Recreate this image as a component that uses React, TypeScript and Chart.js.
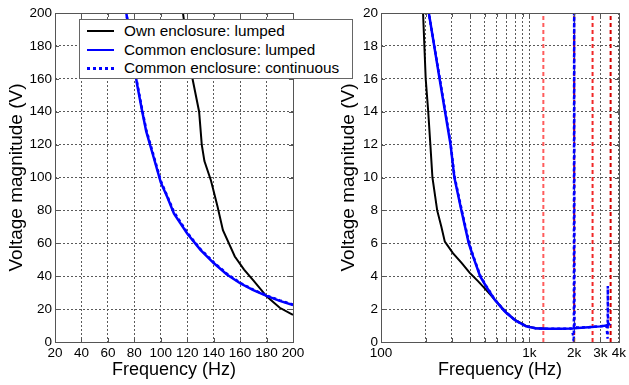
import React, { useEffect, useRef } from "react";
import { Chart, registerables } from "chart.js";

Chart.register(...registerables);

const FONT = "'Liberation Sans', Arial, sans-serif";

// ---- Left plot (linear, 20–200 Hz) ----
const leftFreqOwn = [116, 120, 124, 129, 131, 133, 138, 143, 147, 156, 163, 170, 180, 190, 200];
const leftOwn = [205, 180, 160, 140, 120, 110, 98, 82, 68, 52, 44, 37.5, 27.8, 20.8, 16.5];
const leftFreqCommon = [73, 78, 82, 86, 89, 94, 100, 105, 110, 120, 130, 140, 150, 160, 170, 180, 190, 200];
const leftCommon = [205, 178, 157, 140, 128, 114, 97, 88, 78, 66, 56, 48, 41, 35.7, 31.5, 28, 25, 22.5];
const leftCont = [205, 179, 158, 141, 129, 115, 98, 88.5, 79, 66.5, 56.5, 48.5, 41.5, 36, 31.8, 28.3, 25.3, 22.8];

// ---- Right plot (log, 100–4000 Hz) ----
const rightFreqOwn = [188, 192, 200, 208, 215, 222, 239, 255, 269, 305, 350, 396, 450, 512, 600, 697, 800, 948, 1100, 1300];
const rightOwn = [22, 20, 16, 14, 12, 10, 8, 7, 6.1, 5.4, 4.8, 4.2, 3.7, 3.15, 2.45, 1.8, 1.34, 0.98, 0.84, 0.8];
const rightFreqCommon = [205, 210, 248, 270, 294, 312, 348, 390, 417, 465, 512, 580, 660, 697, 800, 948, 1100, 1300, 1600, 1950, 2100, 2500, 3000, 3300, 3500];
const rightCommon = [22, 20, 16, 14, 12, 10, 8, 6, 5.2, 4, 3.36, 2.6, 2, 1.78, 1.32, 0.95, 0.83, 0.8, 0.8, 0.82, 0.85, 0.9, 0.95, 1.0, 1.1];
const rightFreqCont = [205, 210, 248, 270, 294, 312, 348, 390, 417, 465, 512, 580, 660, 697, 800, 948, 1100, 1300, 1600, 1900, 1960, 1990, 2000, 2010, 2100, 2500, 3000, 3300, 3360, 3370, 3385, 3500];
const rightCont = [22, 20, 16.1, 14.1, 12.1, 10.1, 8.1, 6.1, 5.25, 4.05, 3.4, 2.62, 2.02, 1.8, 1.33, 0.96, 0.83, 0.8, 0.8, 0.82, 0.5, 0.0, 22, 0.9, 0.88, 0.9, 0.96, 1.0, 0.2, 3.4, 1.0, 1.1];

const redLineFreqs = [1240, 2000, 2660, 3520];
const redLineColors = ["#ff5c5c", "#d40000", "#f02828", "#d40000"];

const rightTickValues = [100, 200, 300, 400, 500, 600, 700, 800, 900, 1000, 2000, 3000, 4000];
const rightTickLabels: Record<number, string> = { 100: "100", 1000: "1k", 2000: "2k", 3000: "3k", 4000: "4k" };

const legendLabels = ["Own enclosure: lumped", "Common enclosure: lumped", "Common enclosure: continuous"];

const pts = (xs: number[], ys: number[]) => xs.map((x, i) => ({ x, y: ys[i] }));

const boxPlugin = {
  id: "box",
  afterDraw(chart: any) {
    const { ctx, chartArea: a, scales } = chart;
    ctx.save();
    ctx.strokeStyle = "#555";
    ctx.lineWidth = 1;
    ctx.setLineDash([]);
    const xs = scales.x, ys = scales.y;
    ctx.beginPath();
    xs.ticks.forEach((t: any) => {
      const px = Math.round(xs.getPixelForValue(t.value)) + 0.5;
      ctx.moveTo(px, a.bottom); ctx.lineTo(px, a.bottom - 4);
      ctx.moveTo(px, a.top); ctx.lineTo(px, a.top + 4);
    });
    ys.ticks.forEach((t: any) => {
      const py = Math.round(ys.getPixelForValue(t.value)) + 0.5;
      ctx.moveTo(a.left, py); ctx.lineTo(a.left + 4, py);
      ctx.moveTo(a.right, py); ctx.lineTo(a.right - 4, py);
    });
    ctx.stroke();
    ctx.strokeRect(Math.round(a.left) + 0.5, Math.round(a.top) + 0.5, Math.round(a.right - a.left), Math.round(a.bottom - a.top));
    ctx.restore();
  },
};

const tickFont = { family: FONT, size: 13.5 };
const xTitleFont = { family: FONT, size: 18 };
const yTitleFont = { family: FONT, size: 19 };
const gridCfg = { color: "#5a5a5a", drawTicks: false, lineWidth: 1 };
const borderCfg = { display: false, dash: [2, 2] };

function makeYScale(max: number, step: number, width: number, titlePad: number) {
  return {
    type: "linear",
    min: 0,
    max,
    ticks: { stepSize: step, font: tickFont, color: "#000", padding: 3 },
    grid: gridCfg,
    border: borderCfg,
    title: { display: true, text: "Voltage magnitude (V)", font: yTitleFont, color: "#000", padding: { top: titlePad, bottom: 0 } },
    afterFit: (s: any) => { s.width = width; },
  };
}

function LeftChart() {
  const ref = useRef<HTMLCanvasElement>(null);
  useEffect(() => {
    const chart = new Chart(ref.current!, {
      type: "line",
      data: {
        datasets: [
          { data: pts(leftFreqCommon, leftCont), borderColor: "#0000ff", borderWidth: 2.5, borderDash: [3, 3], pointRadius: 0 },
          { data: pts(leftFreqCommon, leftCommon), borderColor: "#0000ff", borderWidth: 2.5, pointRadius: 0 },
          { data: pts(leftFreqOwn, leftOwn), borderColor: "#000", borderWidth: 2, pointRadius: 0 },
        ],
      } as any,
      options: {
        responsive: false,
        animation: false,
        plugins: { legend: { display: false }, tooltip: { enabled: false } },
        layout: { padding: { top: 13, right: 17, left: 0, bottom: 0 } },
        scales: {
          x: {
            type: "linear",
            min: 20,
            max: 200,
            ticks: { stepSize: 20, font: tickFont, color: "#000", padding: 3, maxRotation: 0, autoSkip: false },
            grid: gridCfg,
            border: borderCfg,
            title: { display: true, text: "Frequency (Hz)", font: xTitleFont, color: "#000", padding: { top: 0, bottom: 4 } },
            afterFit: (s: any) => { s.height = 43; },
          },
          y: makeYScale(200, 20, 55, 5),
        },
      } as any,
      plugins: [boxPlugin],
    });
    return () => chart.destroy();
  }, []);
  return <canvas ref={ref} width={310} height={385} style={{ position: "absolute", left: 0, top: 0 }} />;
}

function RightChart() {
  const ref = useRef<HTMLCanvasElement>(null);
  useEffect(() => {
    const redSets = redLineFreqs.map((f, i) => ({
      data: [{ x: f, y: 0 }, { x: f, y: 20 }],
      borderColor: redLineColors[i],
      borderWidth: 2,
      borderDash: [4, 3],
      pointRadius: 0,
    }));
    const chart = new Chart(ref.current!, {
      type: "line",
      data: {
        datasets: [
          { data: pts(rightFreqCont, rightCont), borderColor: "#0000ff", borderWidth: 2.5, borderDash: [3, 3], pointRadius: 0 },
          { data: pts(rightFreqCommon, rightCommon), borderColor: "#0000ff", borderWidth: 2.5, pointRadius: 0 },
          { data: pts(rightFreqOwn, rightOwn), borderColor: "#000", borderWidth: 2, pointRadius: 0 },
          ...redSets,
        ],
      } as any,
      options: {
        responsive: false,
        animation: false,
        plugins: { legend: { display: false }, tooltip: { enabled: false } },
        layout: { padding: { top: 13, right: 9, left: 0, bottom: 0 } },
        scales: {
          x: {
            type: "logarithmic",
            min: 100,
            max: 4000,
            afterBuildTicks: (s: any) => { s.ticks = rightTickValues.map((v) => ({ value: v })); },
            ticks: {
              font: tickFont, color: "#000", padding: 3, maxRotation: 0, autoSkip: false,
              callback: (v: any) => rightTickLabels[Number(v)] ?? "",
            },
            grid: gridCfg,
            border: borderCfg,
            title: { display: true, text: "Frequency (Hz)", font: xTitleFont, color: "#000", padding: { top: 0, bottom: 4 } },
            afterFit: (s: any) => { s.height = 43; },
          },
          y: makeYScale(20, 2, 71, 27),
        },
      } as any,
      plugins: [boxPlugin],
    });
    return () => chart.destroy();
  }, []);
  return <canvas ref={ref} width={319} height={385} style={{ position: "absolute", left: 310, top: 0 }} />;
}

function Legend() {
  const styles = [
    { borderTop: "2.5px solid #000" },
    { borderTop: "2.5px solid #0000ff" },
    { borderTop: "3px dotted #0000ff" },
  ];
  return (
    <div
      style={{
        position: "absolute", left: 79, top: 19, width: 274, height: 60, background: "#fff",
        border: "1px solid #666", boxSizing: "border-box", fontFamily: FONT, fontSize: 15.3, color: "#000", zIndex: 2,
      }}
    >
      {legendLabels.map((t, i) => (
        <div key={i} style={{ position: "absolute", left: 0, top: 2 + i * 18.7, height: 18, display: "flex", alignItems: "center", whiteSpace: "nowrap" }}>
          <div style={{ width: 27, marginLeft: 7, marginRight: 10, ...styles[i] }} />
          <span>{t}</span>
        </div>
      ))}
    </div>
  );
}

export default function App() {
  return (
    <div style={{ position: "fixed", left: 0, top: 0, width: 629, height: 385, background: "#fff", overflow: "hidden" }}>
      <LeftChart />
      <RightChart />
      <Legend />
    </div>
  );
}
